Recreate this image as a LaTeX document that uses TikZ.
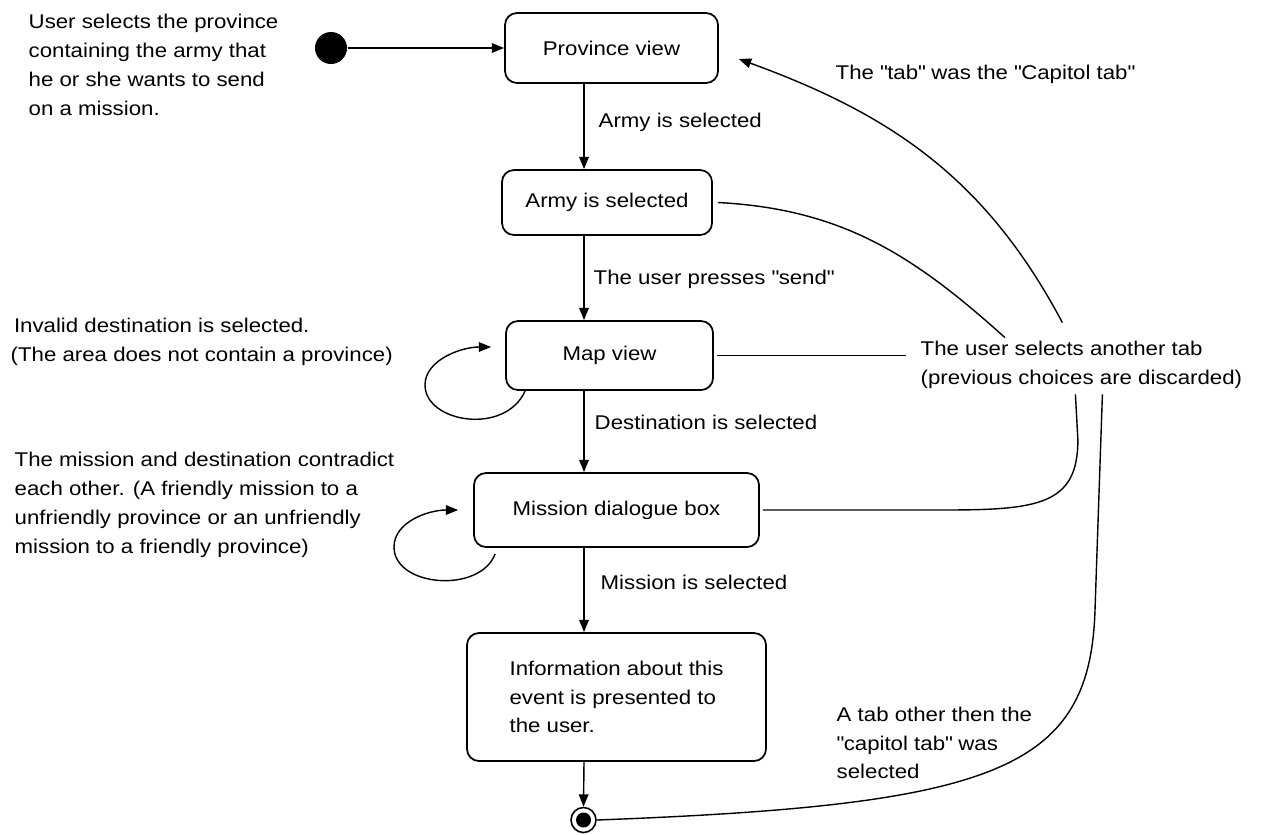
\documentclass[tikz,border=0pt]{standalone}
\usepackage{fontspec}
\setmainfont{Liberation Sans}[FakeStretch=1.12]
\usetikzlibrary{arrows.meta}
\newcommand{\qt}[1]{\textquotedbl#1\textquotedbl}

\begin{document}
\begin{tikzpicture}[font=\fontsize{11.3}{16.4}\selectfont, line width=0.8pt,
  arr/.style={-{Triangle[length=7pt,width=5.5pt]}},
  state/.style={draw, rounded corners=0.24cm, line width=1pt, inner sep=0pt, align=center},
  note/.style={inner sep=0pt, align=left, anchor=west},
  lbl/.style={inner sep=0pt, anchor=west, text height=0.72em, text depth=0.2em}]
  \useasboundingbox (0,0) rectangle (25.32,-16.68);
  \coordinate (spine) at (11.68,0);
  % states
  \node[state, minimum width=4.26cm, minimum height=1.4cm] (prov) at (12.23,-0.96) {Province view};
  \node[state, minimum width=4.2cm, minimum height=1.3cm] (army) at (12.14,-4.05) {Army is selected};
  \node[state, minimum width=4.14cm, minimum height=1.38cm] (map) at (12.19,-7.11) {Map view};
  \node[state, minimum width=5.7cm, minimum height=1.48cm] (mission) at (12.33,-10.2) {Mission dialogue box};
  \node[state, align=left, minimum width=5.98cm, minimum height=2.56cm] (info) at (12.33,-13.94)
    {Information about this\\event is presented to\\the user.};
  % start and end
  \node[circle, fill=black, minimum size=0.64cm, inner sep=0pt] (start) at (6.62,-0.96) {};
  \node[circle, draw, minimum size=0.5cm, inner sep=0pt, line width=0.9pt] (endo) at (11.67,-16.4) {};
  \node[circle, fill=black, minimum size=0.3cm, inner sep=0pt] (endi) at (endo) {};
  % notes
  \node[note] (intro) at (0.56,-1.3) {User selects the province\\containing the army that\\he or she wants to send\\on a mission.};
  \node[note] (invalid) at (0.2,-6.83) {\,Invalid destination is selected.\\(The area does not contain a province)};
  \node[note] (contra) at (0.28,-10.1) {The mission and destination contradict\\each other. (A friendly mission to a\\unfriendly province or an unfriendly\\mission to a friendly province)};
  \node[note] (tabsel) at (18.4,-7.3) {The user selects another tab\\(previous choices are discarded)};
  \node[note] (other) at (16.72,-14.86) {A tab other then the\\\qt{capitol tab} was\\selected};
  % transition labels
  \node[lbl] (l1) at (11.96,-2.46) {Army is selected};
  \node[lbl] (l2) at (11.86,-5.6) {The user presses \qt{send}};
  \node[lbl] (l3) at (11.88,-8.5) {Destination is selected};
  \node[lbl] (l4) at (12.0,-11.7) {Mission is selected};
  \node[lbl] (l5) at (16.7,-1.5) {The \qt{tab} was the \qt{Capitol tab}};
  % main flow
  \draw[arr] (start) -- (prov.west |- start);
  \draw[arr] (prov.south -| spine) -- (army.north -| spine);
  \draw[arr] (army.south -| spine) -- (map.north -| spine);
  \draw[arr] (map.south -| spine) -- (mission.north -| spine);
  \draw[arr] (mission.south -| spine) -- (info.north -| spine);
  \draw[arr] (info.south -| spine) -- (endo.north);
  % self loops
  \draw[arr] ([xshift=0.4cm]map.south west) .. controls +(-0.4,-0.9) and +(0,-0.75) .. (8.5,-7.7)
    .. controls +(0,0.5) and +(-0.6,0) .. ([shift={(-0.28,0.17)}]map.west);
  \draw[arr] ([shift={(0.44,-0.12)}]mission.south west) .. controls +(-0.3,-0.8) and +(0,-0.8) .. (7.88,-10.94)
    .. controls +(0,0.5) and +(-0.6,0) .. ([xshift=-0.3cm]mission.west);
  % another tab
  \draw ([xshift=0.1cm]army.east) to[out=-3,in=138] ([xshift=1.7cm, yshift=0.06cm]tabsel.north west);
  \draw ([xshift=0.06cm]map.east) -- ([xshift=-0.28cm]map.east -| tabsel.west);
  \draw ([xshift=0.06cm]mission.east) -- ++(3.6,0) .. controls +(1.9,0) and +(0,-1.3) .. ++(2.7,1.4)
    -- ([shift={(-0.12,-0.1)}]tabsel.south);
  \draw[arr] ([shift={(-0.38,0.36)}]tabsel.north) to[out=118,in=-20] ([shift={(0.4,-0.22)}]prov.east);
  \draw (endo.east) .. controls +(8,0.3) and +(-0.1,-3.2) .. (21.9,-12.2)
    -- ([shift={(0.42,-0.1)}]tabsel.south);
\end{tikzpicture}
\end{document}
